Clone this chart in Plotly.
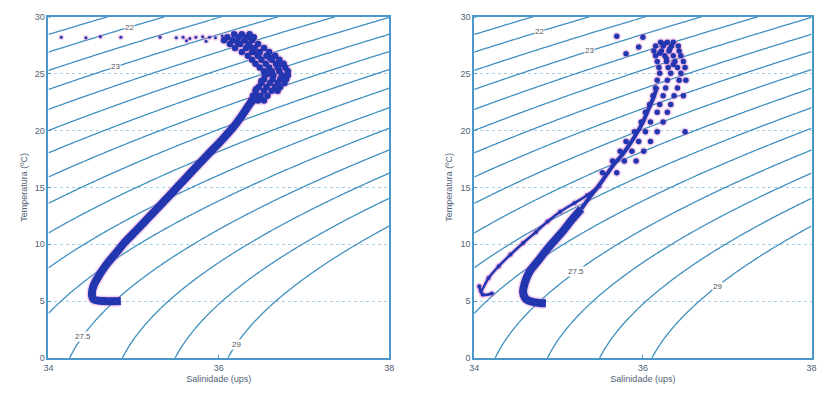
import numpy as np
import plotly.graph_objects as go

# ---------------- data ----------------
S_RANGE = [34, 38]
T_RANGE = [0, 30]
SIGMA_START, SIGMA_END, SIGMA_STEP = 21.0, 29.0, 0.5
X_TICKS = [34, 36, 38]
Y_TICKS = [0, 5, 10, 15, 20, 25, 30]
X_TITLE = "Salinidade (ups)"
Y_TITLE = "Temperatura (ºC)"

# left panel: dense core of the T-S curve
left_band_S = [34.85, 34.65, 34.53, 34.51, 34.53, 34.59, 34.68, 34.79, 34.90, 35.03, 35.17,
               35.31, 35.46, 35.61, 35.76, 35.90, 36.04, 36.17, 36.27, 36.37, 36.47]
left_band_T = [5.0, 5.0, 5.15, 5.65, 6.35, 7.2, 8.2, 9.2, 10.2, 11.2, 12.3,
               13.4, 14.6, 15.8, 17.0, 18.1, 19.2, 20.3, 21.3, 22.4, 23.3]
# left panel: upper cloud
left_cloud_S = [36.18, 36.27, 36.36,
                36.10, 36.23, 36.33, 36.41,
                36.06, 36.16, 36.30, 36.39,
                36.13, 36.25, 36.35, 36.46,
                36.19, 36.32, 36.42, 36.53,
                36.27, 36.39, 36.48, 36.59,
                36.34, 36.46, 36.56, 36.66,
                36.39, 36.50, 36.62, 36.71,
                36.43, 36.55, 36.67, 36.76,
                36.48, 36.59, 36.69, 36.78,
                36.53, 36.62, 36.71, 36.81,
                36.54, 36.64, 36.74, 36.81,
                36.53, 36.63, 36.72, 36.79,
                36.50, 36.60, 36.69, 36.77,
                36.47, 36.56, 36.66, 36.72,
                36.43, 36.53, 36.62, 36.69,
                36.40, 36.49, 36.57,
                36.38, 36.46, 36.53,
                36.22, 36.36, 36.45, 36.60, 36.70, 36.58, 36.50, 36.44]
left_cloud_T = [28.46, 28.46, 28.46,
                28.2, 28.2, 28.2, 28.2,
                27.94, 27.94, 27.94, 27.94,
                27.6, 27.6, 27.6, 27.6,
                27.26, 27.26, 27.26, 27.26,
                26.91, 26.91, 26.91, 26.91,
                26.57, 26.57, 26.57, 26.57,
                26.23, 26.23, 26.23, 26.23,
                25.88, 25.88, 25.88, 25.88,
                25.54, 25.54, 25.54, 25.54,
                25.2, 25.2, 25.2, 25.2,
                24.86, 24.86, 24.86, 24.86,
                24.51, 24.51, 24.51, 24.51,
                24.17, 24.17, 24.17, 24.17,
                23.83, 23.83, 23.83, 23.83,
                23.49, 23.49, 23.49, 23.49,
                23.06, 23.06, 23.06,
                22.63, 22.63, 22.63,
                27.75, 27.4, 26.75, 26.4, 25.7, 25.0, 24.35, 23.65]
# left panel: scattered fresher surface points
left_top_S = [34.15, 34.44, 34.61, 34.85, 35.31, 35.50, 35.58, 35.66, 35.73, 35.81, 35.89, 35.96, 36.04, 35.62, 35.85]
left_top_T = [28.2, 28.15, 28.25, 28.2, 28.2, 28.15, 28.2, 28.1, 28.2, 28.25, 28.2, 28.15, 28.3, 27.9, 27.85]

# right panel: main core (lower, dense part) and its upper continuation
right_band_S = [34.85, 34.72, 34.62, 34.58, 34.60, 34.66, 34.76, 34.85, 34.95, 35.06, 35.16, 35.27]
right_band_T = [4.8, 4.89, 5.14, 5.74, 6.6, 7.63, 8.57, 9.43, 10.29, 11.23, 12.17, 13.11]
right_upper_S = [35.27, 35.37, 35.47, 35.56, 35.65, 35.76, 35.85, 35.93, 36.00, 36.06, 36.12, 36.17]
right_upper_T = [13.11, 14.14, 15.09, 16.03, 16.97, 17.91, 18.86, 19.8, 20.74, 21.77, 22.8, 23.83]
# right panel: second (fresher) strand
right_strand_S = [34.21, 34.10, 34.06, 34.08, 34.17, 34.29, 34.43, 34.58, 34.73, 34.87, 35.02, 35.19, 35.34, 35.48]
right_strand_T = [5.66, 5.57, 6.3, 5.91, 7.03, 8.06, 9.09, 10.11, 11.06, 12.0, 12.86, 13.63, 14.31, 15.09]
# right panel: upper cloud and scattered points
right_cloud_S = [36.21, 36.29, 36.36,
                 36.15, 36.24, 36.34, 36.42,
                 36.13, 36.22, 36.31, 36.43,
                 36.15, 36.26, 36.36, 36.45,
                 36.17, 36.28, 36.38, 36.48,
                 36.19, 36.30, 36.41, 36.50,
                 36.20, 36.33, 36.45,
                 36.17, 36.29, 36.43, 36.51,
                 36.15, 36.27, 36.41,
                 36.12, 36.24, 36.37, 36.48,
                 36.08, 36.20, 36.33,
                 36.03, 36.17, 36.29,
                 35.98, 36.09, 36.24,
                 35.90, 36.03, 36.17, 36.50,
                 35.80, 35.95, 36.09,
                 35.73, 35.87, 36.01,
                 35.64, 35.78, 35.92,
                 35.52, 35.69,
                 35.69, 36.00, 35.95, 35.80,
                 36.25, 36.32, 36.20, 36.28, 36.36]
right_cloud_T = [27.77, 27.77, 27.77,
                 27.43, 27.43, 27.43, 27.43,
                 27.0, 27.0, 27.0, 27.0,
                 26.57, 26.57, 26.57, 26.57,
                 26.06, 26.06, 26.06, 26.06,
                 25.54, 25.54, 25.54, 25.54,
                 25.03, 25.03, 25.03,
                 24.43, 24.43, 24.43, 24.43,
                 23.74, 23.74, 23.74,
                 23.06, 23.06, 23.06, 23.06,
                 22.29, 22.29, 22.29,
                 21.6, 21.6, 21.6,
                 20.74, 20.74, 20.74,
                 19.89, 19.89, 19.89, 19.89,
                 19.03, 19.03, 19.03,
                 18.17, 18.17, 18.17,
                 17.31, 17.31, 17.31,
                 16.29, 16.29,
                 28.29, 28.2, 27.34, 26.74,
                 27.6, 27.2, 26.8, 26.3, 25.8]

# isopycnal labels: (sigma-t value, temperature where the label sits)
left_labels = [(22, 29.1), (23, 25.6), (27.5, 1.9), (29, 1.2)]
right_labels = [(22, 28.7), (23, 27.0), (27.5, 7.6), (29, 6.3)]

# ---------------- styles ----------------
AXIS_COLOR = "#4b98c8"
CONTOUR_COLOR = "#3f8fbf"
GRID_COLOR = "#a9cfe8"
BLUE = "#2236b0"
HALO = "rgba(228,120,200,0.35)"
FONT = "Liberation Sans"
TEXT_COLOR = "#4f6275"


def sigma_t(S, T):
    """UNESCO EOS-80 density at surface pressure, minus 1000."""
    rho_w = (999.842594 + 6.793952e-2 * T - 9.095290e-3 * T**2 + 1.001685e-4 * T**3
             - 1.120083e-6 * T**4 + 6.536332e-9 * T**5)
    A = 8.24493e-1 - 4.0899e-3 * T + 7.6438e-5 * T**2 - 8.2467e-7 * T**3 + 5.3875e-9 * T**4
    B = -5.72466e-3 + 1.0227e-4 * T - 1.6546e-6 * T**2
    C = 4.8314e-4
    return rho_w + A * S + B * S**1.5 + C * S**2 - 1000.0


def salinity_for(sig, T):
    lo, hi = 30.0, 42.0
    for _ in range(60):
        mid = 0.5 * (lo + hi)
        if sigma_t(mid, T) < sig:
            lo = mid
        else:
            hi = mid
    return 0.5 * (lo + hi)


S_grid = np.linspace(S_RANGE[0], S_RANGE[1], 201)
T_grid = np.linspace(T_RANGE[0], T_RANGE[1], 151)
SS, TT = np.meshgrid(S_grid, T_grid)
Z = sigma_t(SS, TT)

fig = go.Figure()


def add_panel(n, layers):
    """layers: list of (S, T, mode, marker size, line width)"""
    xa = "x" if n == 1 else "x2"
    ya = "y" if n == 1 else "y2"
    fig.add_trace(go.Contour(
        x=S_grid, y=T_grid, z=Z, xaxis=xa, yaxis=ya,
        contours=dict(start=SIGMA_START, end=SIGMA_END, size=SIGMA_STEP,
                      coloring="lines", showlabels=False),
        colorscale=[[0, CONTOUR_COLOR], [1, CONTOUR_COLOR]],
        line=dict(width=1.3), showscale=False, hoverinfo="skip"))
    for color, grow in [(HALO, 3), (BLUE, 0)]:
        for (sx, ty, mode, size, lw) in layers:
            fig.add_trace(go.Scatter(
                x=sx, y=ty, mode=mode, xaxis=xa, yaxis=ya,
                marker=dict(color=color, size=size + grow),
                line=dict(color=color, width=lw + grow, shape="spline"),
                hoverinfo="skip", showlegend=False))


add_panel(1, [(left_band_S, left_band_T, "lines", 1, 8),
              (left_cloud_S, left_cloud_T, "markers", 6.5, 1),
              (left_top_S, left_top_T, "markers", 3, 1)])
add_panel(2, [(right_band_S, right_band_T, "lines", 1, 8),
              (right_upper_S, right_upper_T, "lines", 1, 4),
              (right_strand_S, right_strand_T, "lines+markers", 4, 2.5),
              (right_cloud_S, right_cloud_T, "markers", 5.5, 1)])

annotations = []
for labels, xr, yr in [(left_labels, "x", "y"), (right_labels, "x2", "y2")]:
    for sig, T in labels:
        annotations.append(dict(
            x=salinity_for(sig, T), y=T, xref=xr, yref=yr, showarrow=False,
            text=("%g" % sig), font=dict(family=FONT, size=8, color="#555555"),
            bgcolor="white", borderpad=0))

axis_common = dict(showline=True, linecolor=AXIS_COLOR, linewidth=1.6, mirror=True,
                   ticks="inside", ticklen=3, tickcolor=AXIS_COLOR, zeroline=False,
                   tickfont=dict(family=FONT, size=9, color=TEXT_COLOR))

xaxis_common = dict(axis_common, range=S_RANGE, tickvals=X_TICKS, showgrid=False,
                    title=dict(text=X_TITLE, font=dict(family=FONT, size=9, color=TEXT_COLOR),
                               standoff=4))
yaxis_common = dict(axis_common, range=T_RANGE, tickvals=Y_TICKS, showgrid=True,
                    gridcolor=GRID_COLOR, griddash="dot", gridwidth=1,
                    title=dict(text=Y_TITLE, font=dict(family=FONT, size=9, color=TEXT_COLOR),
                               standoff=6))

fig.update_layout(
    width=819, height=403, margin=dict(l=0, r=0, t=0, b=0),
    paper_bgcolor="white", plot_bgcolor="white", showlegend=False,
    xaxis=dict(xaxis_common, domain=[0.0537, 0.475], anchor="y"),
    yaxis=dict(yaxis_common, domain=[0.102, 0.970], anchor="x"),
    xaxis2=dict(xaxis_common, domain=[0.58, 0.997], anchor="y2"),
    yaxis2=dict(yaxis_common, domain=[0.102, 0.970], anchor="x2"),
    annotations=annotations,
)

fig.write_html("out.html")
